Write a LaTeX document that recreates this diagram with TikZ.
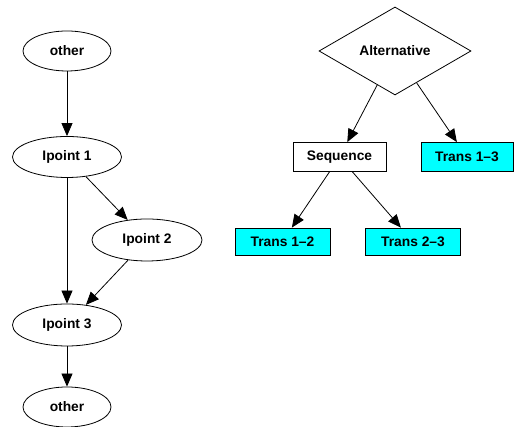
\documentclass[tikz,border=0pt]{standalone}
\usepackage{fontspec}
\setmainfont{Liberation Sans}
\usetikzlibrary{shapes.geometric,arrows.meta}
\definecolor{transcyan}{RGB}{0,255,255}
\begin{document}
\begin{tikzpicture}[x=1pt,y=1pt,
  every node/.style={font=\fontsize{13.8}{16}\selectfont\bfseries, line width=0.8pt, inner sep=0pt},
  ell/.style={draw, ellipse, minimum height=40pt},
  box/.style={draw, rectangle, minimum height=28pt},
  trans/.style={box, fill=transcyan, minimum width=95pt, minimum height=27pt},
  arr/.style={line width=0.8pt, -{Triangle[length=13pt,width=11pt]}}]
\useasboundingbox (0,0) rectangle (514,427);
% left graph
\node[ell, minimum width=88pt] (o1) at (67,376) {other};
\node[ell, minimum width=109pt, minimum height=41pt] (i1) at (67,270) {Ipoint 1};
\node[ell, minimum width=110pt, minimum height=42pt] (i2) at (147,187) {Ipoint 2};
\node[ell, minimum width=109pt, minimum height=42pt] (i3) at (67,102) {Ipoint 3};
\node[ell, minimum width=88pt] (o2) at (67,20) {other};
\draw[arr] (o1) -- (i1);
\draw[arr] (i1) -- (i2);
\draw[arr] (i1) -- (i3);
\draw[arr] (i2) -- (i3);
\draw[arr] (i3) -- (o2);
% right graph
\node[draw, diamond, minimum width=152pt, minimum height=88pt, aspect=1.7] (alt) at (395,376) {Alternative};
\node[box, minimum width=93pt, minimum height=29pt] (seq) at (339.5,270) {Sequence};
\node[trans, minimum width=92pt, minimum height=29pt] (t13) at (467,270) {Trans 1--3};
\node[trans] (t12) at (282.5,185.5) {Trans 1--2};
\node[trans] (t23) at (413,185.5) {Trans 2--3};
\draw[arr] (alt) -- (seq);
\draw[arr] (alt) -- (t13);
\draw[arr] (seq) -- (t12);
\draw[arr] (seq) -- (t23);
\end{tikzpicture}
\end{document}
